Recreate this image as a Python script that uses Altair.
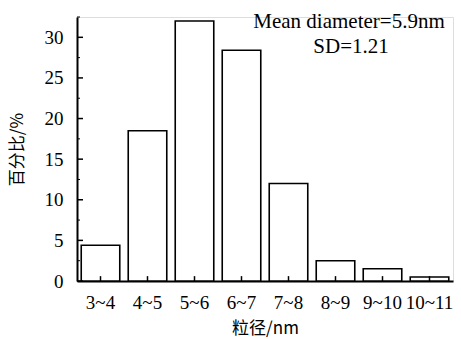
import altair as alt
import pandas as pd

categories = ["3~4", "4~5", "5~6", "6~7", "7~8", "8~9", "9~10", "10~11"]
percent = [4.4, 18.5, 32.0, 28.4, 12.0, 2.5, 1.5, 0.5]
y_major = [0, 5, 10, 15, 20, 25, 30]
y_minor = [2.5, 7.5, 12.5, 17.5, 22.5, 27.5, 32.5]
note_lines = ["Mean diameter=5.9nm", "SD=1.21"]

df = pd.DataFrame({"cat": categories, "pct": percent})
maj = pd.DataFrame({"v": y_major})
mnr = pd.DataFrame({"v": y_minor})

SERIF = "Liberation Serif"
CJK = "Noto Sans CJK SC"

xscale = alt.Scale(domain=categories, paddingInner=0.18, paddingOuter=0.09)
yscale = alt.Scale(domain=[0, 32.5], nice=False)

bars = alt.Chart(df).mark_bar(fill="white", stroke="black", strokeWidth=1.6).encode(
    x=alt.X("cat:N", scale=xscale, sort=categories,
            axis=alt.Axis(title="粒径/nm", labelAngle=0, tickSize=0, labelPadding=12,
                          labelFont=SERIF, labelFontSize=19, labelColor="black",
                          titleFont=CJK, titleFontSize=17, titleFontWeight="normal",
                          titlePadding=8, titleColor="black",
                          domainColor="black", domainWidth=2)),
    y=alt.Y("pct:Q", scale=yscale,
            axis=alt.Axis(title="百分比/%", values=y_major, tickSize=0, labelPadding=14,
                          labelFont=SERIF, labelFontSize=19, labelColor="black",
                          titleFont=CJK, titleFontSize=17, titleFontWeight="normal",
                          titlePadding=18, titleColor="black",
                          domainColor="black", domainWidth=2, grid=False)),
)

xticks = alt.Chart(df).mark_rule(color="black", strokeWidth=1.5).encode(
    x=alt.X("cat:N", scale=xscale, sort=categories),
    y=alt.datum(0),
    y2=alt.datum(0.6),
)

ymaj = alt.Chart(maj).mark_rule(color="black", strokeWidth=1.5).encode(
    y=alt.Y("v:Q", scale=yscale),
    x=alt.value(0),
    x2=alt.value(6),
)
ymin = alt.Chart(mnr).mark_rule(color="black", strokeWidth=1).encode(
    y=alt.Y("v:Q", scale=yscale),
    x=alt.value(0),
    x2=alt.value(3),
)

note1 = alt.Chart(pd.DataFrame({"t": [note_lines[0]]})).mark_text(
    font=SERIF, fontSize=21, color="black", align="center", baseline="alphabetic"
).encode(text="t:N", x=alt.value(272), y=alt.value(11))
note2 = alt.Chart(pd.DataFrame({"t": [note_lines[1]]})).mark_text(
    font=SERIF, fontSize=21, color="black", align="center", baseline="alphabetic"
).encode(text="t:N", x=alt.value(274), y=alt.value(36))

chart = alt.layer(bars, xticks, ymaj, ymin, note1, note2).properties(
    width=376, height=264,
    autosize=alt.AutoSizeParams(type="none"),
    padding={"left": 77, "top": 17, "right": 8, "bottom": 58},
).configure_view(stroke=None).configure(background="white")

chart.save("out.html", embed_options={"renderer": "svg", "actions": False})
